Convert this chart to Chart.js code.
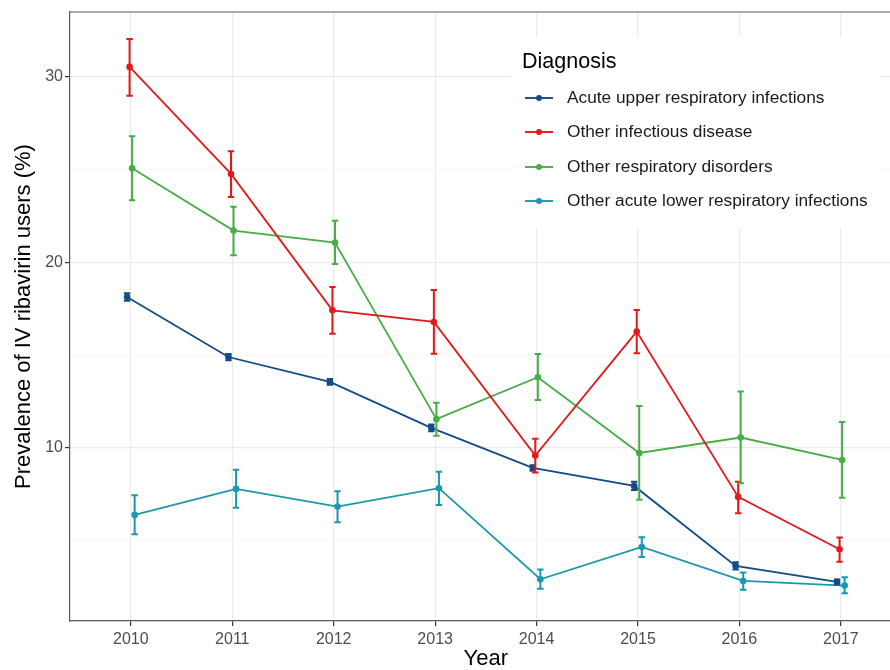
<!DOCTYPE html>
<html>
<head>
<meta charset="utf-8">
<script src="https://cdn.jsdelivr.net/npm/chart.js@4/dist/chart.umd.min.js"></script>
<style>
  html, body { margin: 0; padding: 0; background: #ffffff; overflow: hidden; }
  #wrap { width: 890px; height: 670px; overflow: hidden; position: relative; }
  #box { width: 905px; height: 670px; position: absolute; left: 0; top: 0; }
</style>
</head>
<body>
<div id="wrap"><div id="box"><canvas id="c"></canvas></div></div>
<script>
// Survey years
const years = [2010, 2011, 2012, 2013, 2014, 2015, 2016, 2017];
const yTicks = [5, 10, 15, 20, 25, 30];

const seriesNames = [
  'Acute upper respiratory infections',
  'Other infectious disease',
  'Other respiratory disorders',
  'Other acute lower respiratory infections'
];
const seriesColors = ['#134a87', '#e2191c', '#48ad45', '#1a98ac'];

// Prevalence (%) with lower / upper confidence limits
const acuteUpper     = [18.14, 14.90, 13.56, 11.08, 8.92, 7.95, 3.64, 2.78];
const acuteUpperLo   = [17.94, 14.73, 13.41, 10.90, 8.77, 7.73, 3.44, 2.65];
const acuteUpperHi   = [18.34, 15.07, 13.71, 11.26, 9.07, 8.17, 3.84, 2.91];

const infectious     = [30.54, 24.77, 17.42, 16.79, 9.59, 16.27, 7.36, 4.54];
const infectiousLo   = [28.98, 23.53, 16.15, 15.08, 8.67, 15.10, 6.48, 3.87];
const infectiousHi   = [32.05, 26.00, 18.68, 18.52, 10.49, 17.44, 8.18, 5.17];

const respiratory    = [25.08, 21.72, 21.07, 11.55, 13.81, 9.73, 10.56, 9.35];
const respiratoryLo  = [23.35, 20.39, 19.92, 10.65, 12.59, 7.20, 8.10, 7.32];
const respiratoryHi  = [26.80, 23.00, 22.25, 12.43, 15.07, 12.26, 13.04, 11.40];

const acuteLower     = [6.39, 7.79, 6.84, 7.83, 2.92, 4.66, 2.83, 2.58];
const acuteLowerLo   = [5.35, 6.78, 6.00, 6.93, 2.41, 4.12, 2.35, 2.17];
const acuteLowerHi   = [7.45, 8.83, 7.67, 8.72, 3.44, 5.18, 3.28, 3.03];

const mids = [acuteUpper, infectious, respiratory, acuteLower];
const lows = [acuteUpperLo, infectiousLo, respiratoryLo, acuteLowerLo];
const highs = [acuteUpperHi, infectiousHi, respiratoryHi, acuteLowerHi];

// horizontal dodge between groups (in year units)
const DODGE = 0.025;

const FONT = '"Liberation Sans", Arial, Helvetica, sans-serif';

const datasets = seriesNames.map((name, i) => {
  const off = (i - 1.5) * DODGE;
  return {
    label: name,
    data: years.map((yr, k) => ({ x: yr + off, y: mids[i][k], lo: lows[i][k], hi: highs[i][k] })),
    borderColor: seriesColors[i],
    backgroundColor: seriesColors[i],
    borderWidth: 1.8,
    pointRadius: 3.3,
    pointBorderWidth: 0,
    pointHoverRadius: 3.3,
    tension: 0
  };
});

// vertical error bars with short caps
const errorBars = {
  id: 'errorBars',
  afterDatasetsDraw(chart) {
    const { ctx, scales: { x, y } } = chart;
    ctx.save();
    chart.data.datasets.forEach(ds => {
      ctx.strokeStyle = ds.borderColor;
      ctx.lineWidth = 2;
      ds.data.forEach(p => {
        const px = x.getPixelForValue(p.x);
        const yl = y.getPixelForValue(p.lo);
        const yh = y.getPixelForValue(p.hi);
        ctx.beginPath();
        ctx.moveTo(px, yl); ctx.lineTo(px, yh);
        ctx.moveTo(px - 3.2, yl); ctx.lineTo(px + 3.2, yl);
        ctx.moveTo(px - 3.2, yh); ctx.lineTo(px + 3.2, yh);
        ctx.stroke();
      });
    });
    ctx.restore();
  }
};

// panel top border + legend box inside the panel
const panelExtras = {
  id: 'panelExtras',
  beforeDatasetsDraw(chart) {
    const { ctx, chartArea: a } = chart;
    ctx.save();
    ctx.strokeStyle = '#5a5a5a';
    ctx.lineWidth = 1.2;
    ctx.beginPath();
    ctx.moveTo(a.left, a.top); ctx.lineTo(a.right, a.top);
    ctx.stroke();

    // legend
    ctx.fillStyle = '#ffffff';
    ctx.fillRect(511, 37, 369, 191);
    ctx.fillStyle = '#000000';
    ctx.font = '21.5px ' + FONT;
    ctx.textBaseline = 'middle';
    ctx.textAlign = 'left';
    ctx.fillText('Diagnosis', 522, 62);
    const rows = [98, 132, 167, 201];
    chart.data.datasets.forEach((ds, i) => {
      const yy = rows[i];
      ctx.strokeStyle = ds.borderColor;
      ctx.lineWidth = 1.9;
      ctx.beginPath(); ctx.moveTo(525, yy); ctx.lineTo(553, yy); ctx.stroke();
      ctx.fillStyle = ds.borderColor;
      ctx.beginPath(); ctx.arc(539, yy, 3, 0, Math.PI * 2); ctx.fill();
      ctx.fillStyle = '#1a1a1a';
      ctx.font = '17.3px ' + FONT;
      ctx.fillText(ds.label, 567, yy);
    });
    ctx.restore();
  }
};

new Chart(document.getElementById('c'), {
  type: 'line',
  data: { datasets },
  plugins: [errorBars, panelExtras],
  options: {
    responsive: true,
    maintainAspectRatio: false,
    animation: false,
    events: [],
    layout: { padding: { top: 12, right: 1, bottom: 0, left: 0 } },
    plugins: { legend: { display: false }, tooltip: { enabled: false } },
    scales: {
      x: {
        type: 'linear',
        min: 2009.4,
        max: 2017.6,
        afterBuildTicks: s => { s.ticks = years.map(v => ({ value: v })); },
        afterFit: s => { s.height = 49; },
        ticks: {
          font: { family: FONT, size: 16 },
          color: '#4d4d4d',
          padding: 4,
          maxRotation: 0,
          autoSkip: false,
          callback: v => String(v)
        },
        grid: { color: '#ebebeb', lineWidth: 1.2, tickColor: '#333333', tickLength: 5 },
        border: { display: true, color: '#5a5a5a', width: 1.2 },
        title: {
          display: true, text: 'Year', color: '#000000',
          font: { family: FONT, size: 22, lineHeight: 1 },
          padding: { top: 0, bottom: 0 }
        }
      },
      y: {
        type: 'linear',
        min: 0.67,
        max: 33.5,
        afterBuildTicks: s => { s.ticks = yTicks.map(v => ({ value: v })); },
        afterFit: s => { s.width = 70; },
        ticks: {
          font: { family: FONT, size: 16 },
          color: '#4d4d4d',
          padding: 2,
          autoSkip: false,
          callback: v => (v % 10 === 0 ? String(v) : '')
        },
        grid: {
          color: c => (c.tick && c.tick.value % 10 === 0 ? '#ebebeb' : '#f3f3f3'),
          lineWidth: c => (c.tick && c.tick.value % 10 === 0 ? 1.2 : 0.7),
          tickColor: c => (c.tick && c.tick.value % 10 === 0 ? '#333333' : 'rgba(0,0,0,0)'),
          tickLength: 5
        },
        border: { display: true, color: '#5a5a5a', width: 1.2 },
        title: {
          display: true, text: 'Prevalence of IV ribavirin users (%)', color: '#000000',
          font: { family: FONT, size: 22, lineHeight: 1 },
          padding: { top: 13, bottom: 0 }
        }
      }
    }
  }
});
</script>
</body>
</html>
